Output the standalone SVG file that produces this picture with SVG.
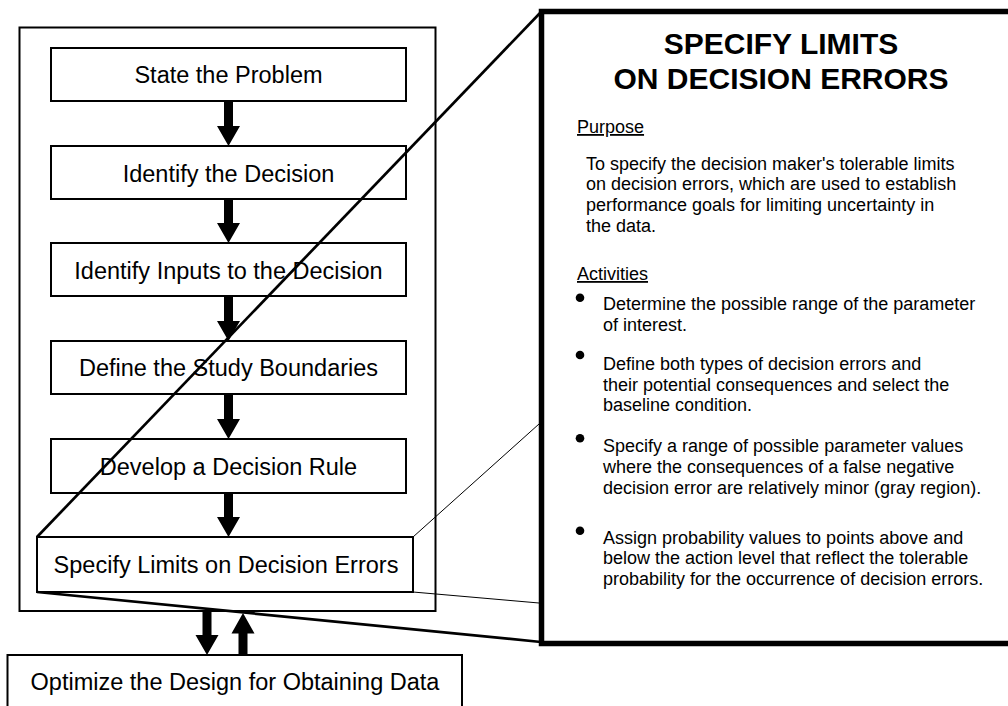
<svg xmlns="http://www.w3.org/2000/svg" width="1008" height="706" viewBox="0 0 1008 706">
<style>
.box{fill:#fff;stroke:#000;stroke-width:2}
.lbl{font-family:"Liberation Sans",Arial,sans-serif;font-size:23.5px;text-anchor:middle;fill:#000}
.t{font-family:"Liberation Sans",Arial,sans-serif;font-size:18px;fill:#000}
.h{font-family:"Liberation Sans",Arial,sans-serif;font-size:30px;font-weight:bold;text-anchor:middle;fill:#000}
.arr{fill:#000;stroke:none}
.thick{stroke:#000;stroke-width:2.7;fill:none}
.thin{stroke:#000;stroke-width:1;fill:none}
</style>
<rect width="1008" height="706" fill="#fff"/>
<g id="outer"><rect class="box" x="19.5" y="27.5" width="416" height="583.5" fill="none"/></g>
<g id="detail">
<rect x="541.5" y="11.5" width="480" height="632" fill="#fff" stroke="#000" stroke-width="5.5"/>
<text class="h" x="781" y="54">SPECIFY LIMITS</text>
<text class="h" x="781" y="89">ON DECISION ERRORS</text>
<text class="t" x="577" y="133" text-decoration="underline">Purpose</text>
<text class="t" x="586" y="169.5">To specify the decision maker's tolerable limits</text>
<text class="t" x="586" y="190">on decision errors, which are used to establish</text>
<text class="t" x="586" y="211">performance goals for limiting uncertainty in</text>
<text class="t" x="586" y="232">the data.</text>
<text class="t" x="577" y="280" text-decoration="underline">Activities</text>
<circle cx="580" cy="297.7" r="4.3"/>
<circle cx="580" cy="355" r="4.3"/>
<circle cx="580" cy="438.3" r="4.3"/>
<circle cx="580" cy="530.7" r="4.3"/>
<text class="t" x="603" y="310">Determine the possible range of the parameter</text>
<text class="t" x="603" y="331">of interest.</text>
<text class="t" x="603" y="370">Define both types of decision errors and</text>
<text class="t" x="603" y="391">their potential consequences and select the</text>
<text class="t" x="603" y="411">baseline condition.</text>
<text class="t" x="603" y="452">Specify a range of possible parameter values</text>
<text class="t" x="603" y="473">where the consequences of a false negative</text>
<text class="t" x="603" y="493.5">decision error are relatively minor (gray region).</text>
<text class="t" x="603" y="543.5">Assign probability values to points above and</text>
<text class="t" x="603" y="564">below the action level that reflect the tolerable</text>
<text class="t" x="603" y="585">probability for the occurrence of decision errors.</text>
</g>
<g id="n1"><rect class="box" x="51" y="48" width="355" height="53"/><text class="lbl" x="228.5" y="83">State the Problem</text></g>
<g id="n2"><rect class="box" x="51" y="146" width="355" height="53"/><text class="lbl" x="228.5" y="181.5">Identify the Decision</text></g>
<g id="n3"><rect class="box" x="51" y="243" width="355" height="53"/><text class="lbl" x="228.5" y="278.5">Identify Inputs to the Decision</text></g>
<g id="n4"><rect class="box" x="51" y="341" width="355" height="53"/><text class="lbl" x="228.5" y="376">Define the Study Boundaries</text></g>
<g id="n5"><rect class="box" x="51" y="439" width="355" height="54"/><text class="lbl" x="228.5" y="474.5">Develop a Decision Rule</text></g>
<g id="n6"><rect class="box" x="37" y="537" width="376" height="55"/><text class="lbl" x="226" y="573">Specify Limits on Decision Errors</text></g>
<g id="n7"><rect class="box" x="7.5" y="655" width="454.5" height="60"/><text class="lbl" x="235" y="690">Optimize the Design for Obtaining Data</text></g>
<g id="connectors">
<path class="arr" d="M224,101H233V126H240L228.5,146L217,126H224Z"/>
<path class="arr" d="M224,199H233V223H240L228.5,243L217,223H224Z"/>
<path class="arr" d="M224,296H233V321H240L228.5,341L217,321H224Z"/>
<path class="arr" d="M224,394H233V419H240L228.5,439L217,419H224Z"/>
<path class="arr" d="M224,493H233V517H240L228.5,537L217,517H224Z"/>
<path class="arr" d="M202.5,611H211.5V635H218.5L207,655L195.5,635H202.5Z"/>
<path class="arr" d="M238.5,655H247.5V633.5H254.5L243,613L231.5,633.5H238.5Z"/>
<line class="thick" x1="37" y1="537" x2="541" y2="12"/>
<line class="thick" x1="37" y1="592" x2="541" y2="642"/>
<line class="thin" x1="413" y1="537" x2="539" y2="424"/>
<line class="thin" x1="413" y1="592" x2="539" y2="603"/>
</g>
</svg>
